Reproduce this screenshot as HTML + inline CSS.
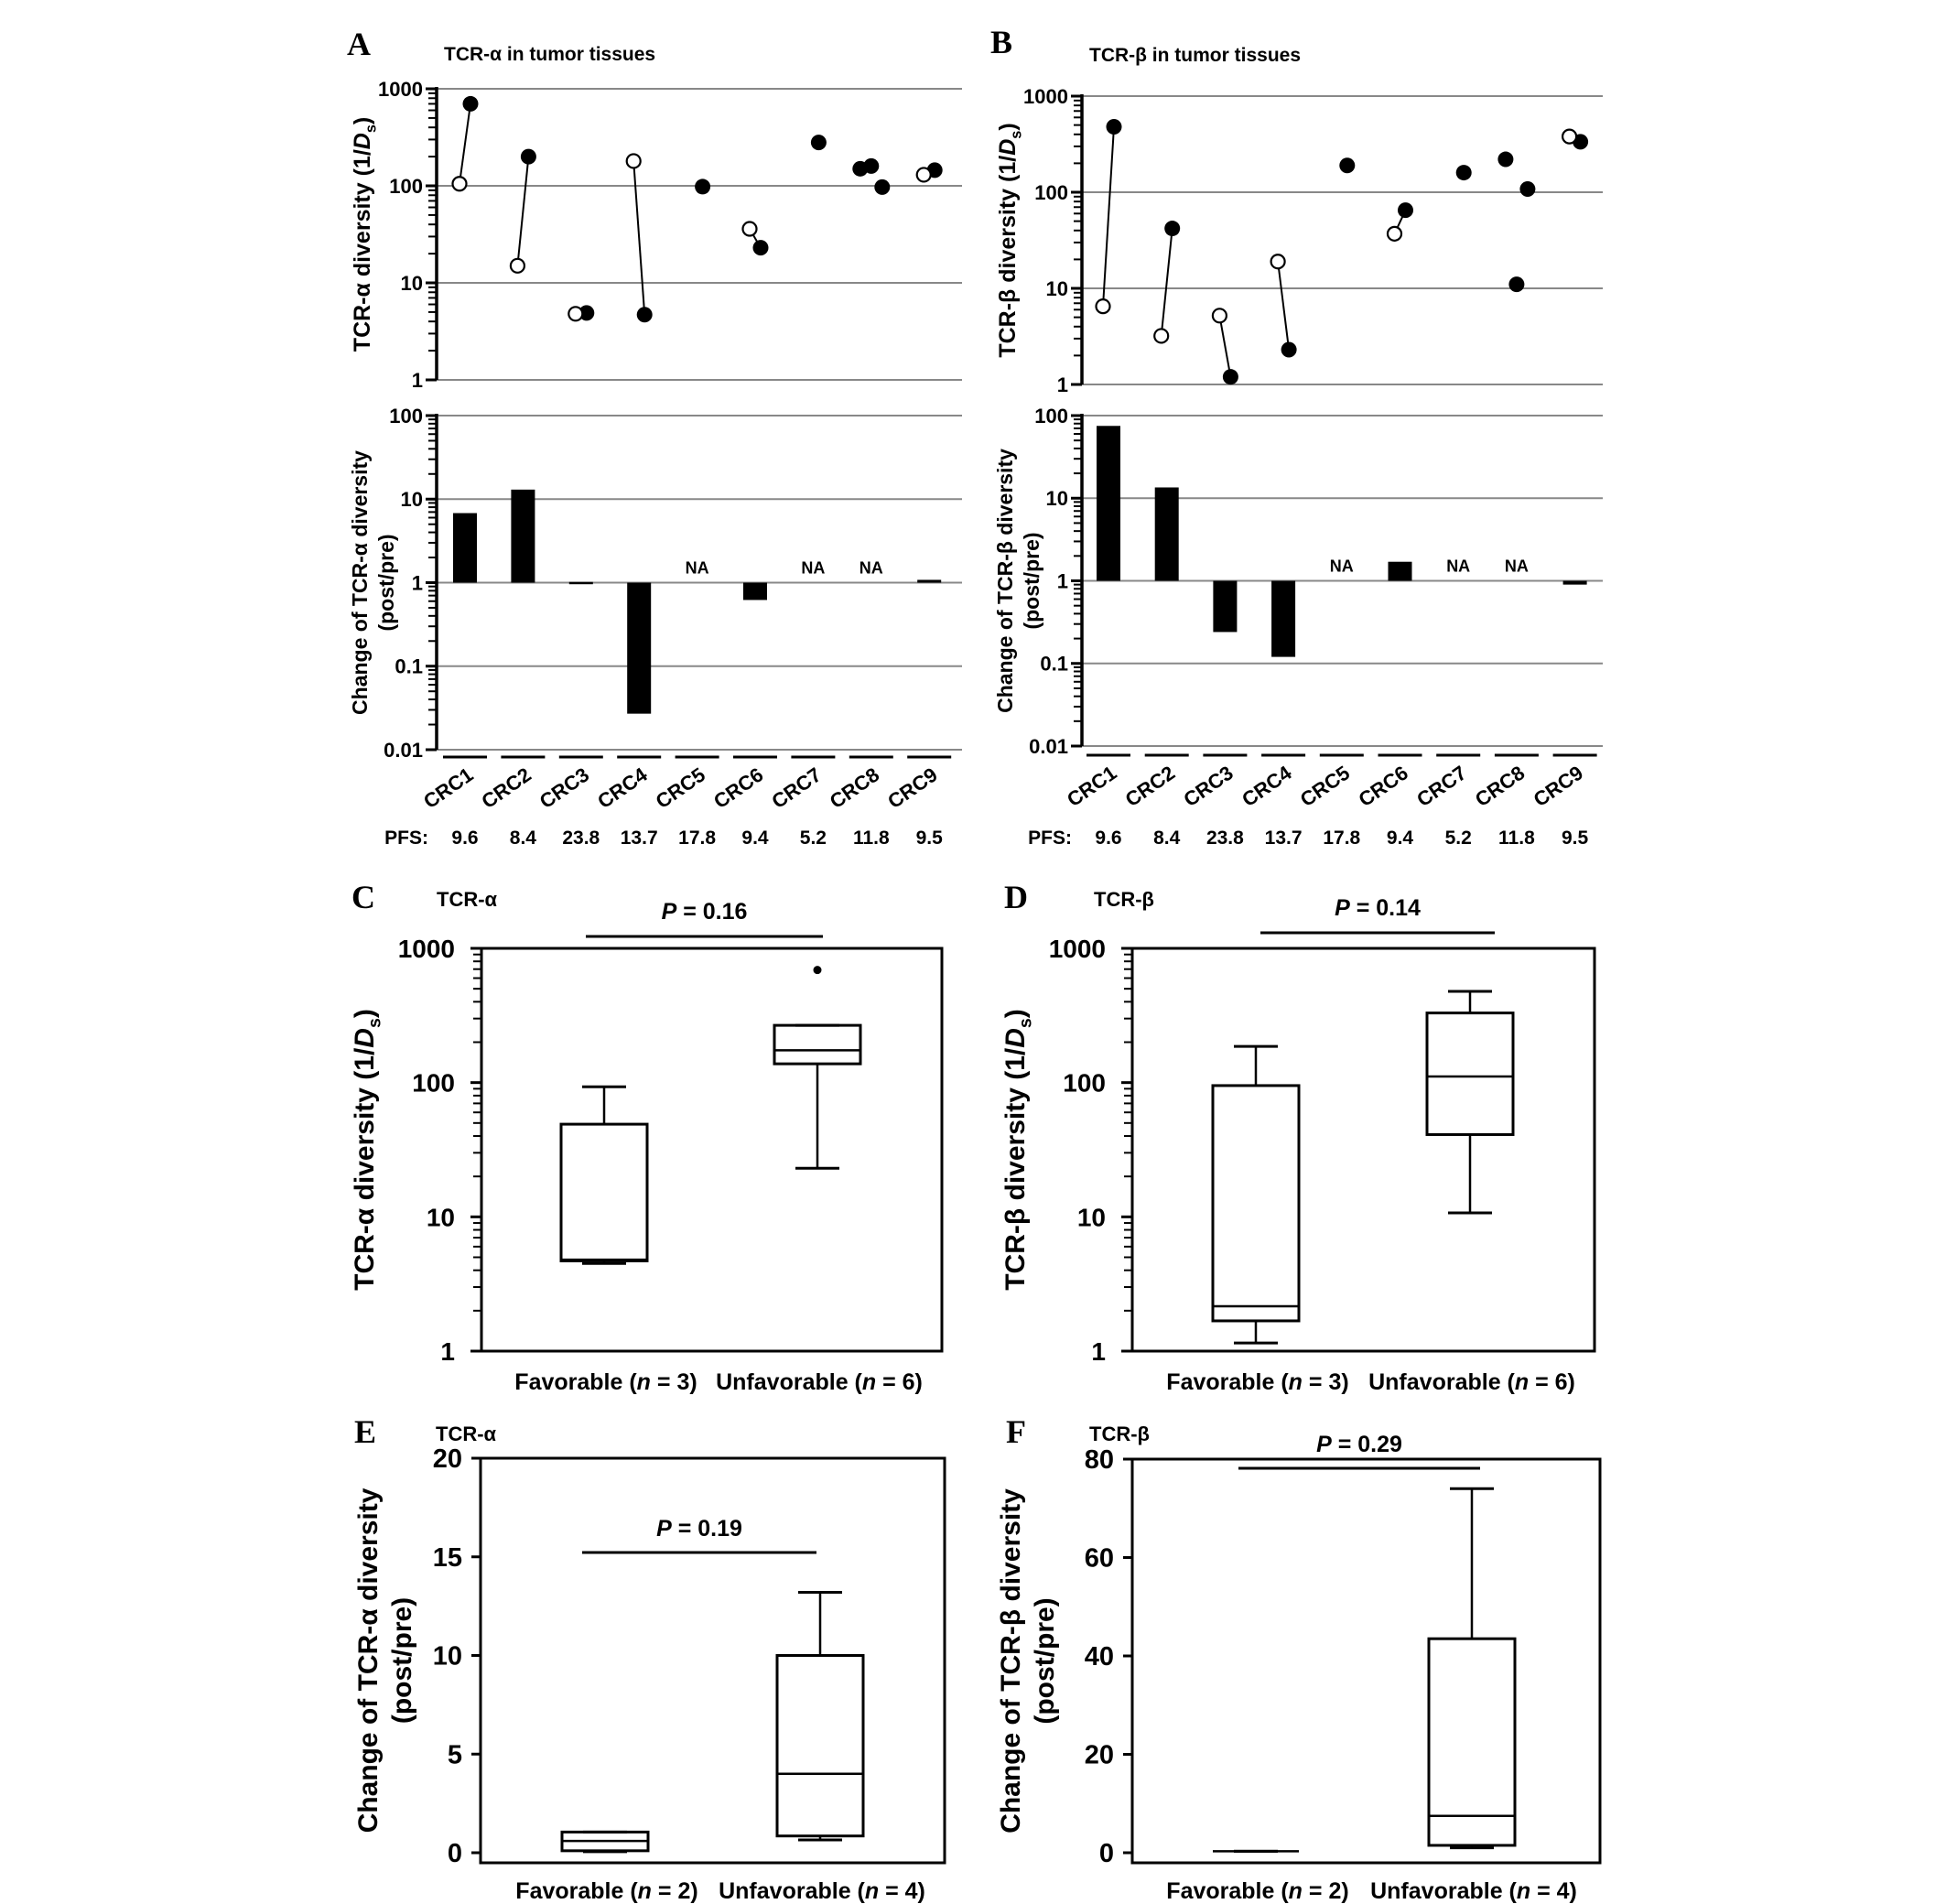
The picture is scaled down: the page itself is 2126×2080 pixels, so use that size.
<!DOCTYPE html>
<html><head><meta charset="utf-8"><style>
html,body{margin:0;padding:0;background:#fff}
svg{display:block;font-family:"Liberation Sans",Arial,sans-serif}
</style></head><body>
<svg id="fig" width="2126" height="2080" viewBox="0 0 2126 2080" xmlns="http://www.w3.org/2000/svg"></svg>
<script>
// ---- Data ----
const categories = ["CRC1","CRC2","CRC3","CRC4","CRC5","CRC6","CRC7","CRC8","CRC9"];
const pfsValues = ["9.6","8.4","23.8","13.7","17.8","9.4","5.2","11.8","9.5"];
const alphaPre = [105, 15, 4.8, 180, null, 36, null, null, 130];
const alphaPost = [[700],[200],[4.9],[4.7],[98],[23],[280],[150,160,97],[145]];
const alphaChange = [6.8, 13, 1.02, 0.027, null, 0.62, null, null, 1.08];
const betaPre = [6.5, 3.2, 5.2, 19, null, 37, null, null, 380];
const betaPost = [[480],[42],[1.2],[2.3],[190],[65],[160],[220,11,108],[335]];
const betaChange = [75, 13.5, 0.24, 0.12, null, 1.7, null, null, 0.9];
const groupLabels = ["Favorable","Unfavorable"];
// box stats: [low, q1, median, q3, high]
const boxC = [[4.5,4.7,4.8,49,93],[23,138,174,267,267]];
const outlierC = [null, 690];
const boxD = [[1.15,1.68,2.16,95,186],[10.7,41,111,330,478]];
const boxE = [[0.05,0.1,0.6,1.05,1.05],[0.65,0.85,4,10,13.2]];
const boxF = [[0.3,0.3,0.3,0.3,0.3],[1,1.5,7.5,43.5,74]];
const groupNC = [3,6], groupNE = [2,4];
const logTicksTop = [1,10,100,1000];
const logTicksBottom = [0.01,0.1,1,10,100];
const linTicksE = [0,5,10,15,20];
const linTicksF = [0,20,40,60,80];

const svg = document.getElementById('fig');
const NS = "http://www.w3.org/2000/svg";
function el(tag, attrs, parent){
  const e = document.createElementNS(NS, tag);
  for (const k in attrs) e.setAttribute(k, attrs[k]);
  (parent||svg).appendChild(e);
  return e;
}
function logScale(vmin,vmax,pBottom,pTop){
  const a=Math.log10(vmin), b=Math.log10(vmax);
  return v => pBottom - (Math.log10(v)-a)/(b-a)*(pBottom-pTop);
}
function linScale(vmin,vmax,pBottom,pTop){
  return v => pBottom - (v-vmin)/(vmax-vmin)*(pBottom-pTop);
}
function txt(x,y,s,size,opts,parent){
  opts=opts||{};
  const t = el('text',{x:x,y:y,'font-size':size,'font-weight':opts.weight||'bold','text-anchor':opts.anchor||'middle',fill:'#000'},parent);
  if(opts.transform) t.setAttribute('transform',opts.transform);
  if(opts.family) t.setAttribute('font-family',opts.family);
  t.textContent = s;
  return t;
}
function logAxis(g, ax, ticks, y, right, labelSize, gap){
  const lo = ticks[0], hi = ticks[ticks.length-1];
  for (let d=lo; d<hi*0.999; d*=10){
    for (let m=2;m<10;m++){
      const yy=y(d*m);
      const tk = el('line',{x1:ax-9,x2:ax,y1:yy,y2:yy,stroke:'#000','stroke-width':2},g);
      
      
    }
  }
  ticks.forEach(v=>{
    const yy=y(v);
    if(right){
      const gl = el('line',{x1:ax,x2:right,y1:yy,y2:yy,stroke:'#888','stroke-width':2},g);
      
      
    }
    el('line',{x1:ax-12,x2:ax,y1:yy,y2:yy,stroke:'#000','stroke-width':3},g);
    const t = txt(ax-gap,yy+labelSize*0.36,String(v),labelSize,{anchor:'end'},g);
    
    
  });
}
function ylabel(g,xs,y,lines,size,ds){
  lines.forEach((s,i)=>{
    const t = el('text',{x:0,y:0,'font-size':size,'font-weight':'bold','text-anchor':'middle',transform:`translate(${xs[i]},${y}) rotate(-90)`},g);
    
    
    if(ds && i===0){
      t.appendChild(document.createTextNode(s+" (1/"));
      const d=document.createElementNS(NS,'tspan'); d.setAttribute('font-style','italic'); d.textContent='D'; t.appendChild(d);
      const sb=document.createElementNS(NS,'tspan'); sb.setAttribute('font-size',size*0.65); sb.setAttribute('dy',size*0.25); sb.textContent='s'; t.appendChild(sb);
      const c=document.createElementNS(NS,'tspan'); c.setAttribute('dy',-size*0.25); c.textContent=')'; t.appendChild(c);
    } else t.textContent=s;
  });
}

// ---- Panels A & B ----
function panelAB(cfg){
  const g = el('g',{});
  
  
  const L = txt(cfg.letterX,cfg.letterY,cfg.letter,36,{family:'"Liberation Serif",serif'},g);
   
  const T = txt(cfg.ax+8,cfg.titleY,cfg.title,21,{anchor:'start'},g);
   
  const yT = logScale(1,1000,cfg.topB,cfg.topT);
  const yB = logScale(0.01,100,cfg.botB,cfg.botT);
  logAxis(g,cfg.ax,logTicksTop,yT,cfg.right,22,15);
  logAxis(g,cfg.ax,logTicksBottom,yB,cfg.right,22,15);
  el('line',{x1:cfg.ax,x2:cfg.ax,y1:cfg.topT-2,y2:cfg.topB,stroke:'#000','stroke-width':3.5},g);
  el('line',{x1:cfg.ax,x2:cfg.ax,y1:cfg.botT-2,y2:cfg.botB,stroke:'#000','stroke-width':3.5},g);
  ylabel(g,[cfg.ax-73],(cfg.topT+cfg.topB)/2,[cfg.ylab1],25,true);
  ylabel(g,[cfg.ax-76,cfg.ax-47],(cfg.botT+cfg.botB)/2,[cfg.ylab2,"(post/pre)"],23,false);
  const xc = i => cfg.c0 + i*cfg.step;
  categories.forEach((c,i)=>{
    const x=xc(i);
    const pre=cfg.pre[i], posts=cfg.post[i];
    const n=posts.length;
    const postX = posts.map((v,k)=> n===1 ? x+6 : x-12+k*12);
    if(pre!=null && n===1){
      el('line',{x1:x-6,y1:yT(pre),x2:postX[0],y2:yT(posts[0]),stroke:'#000','stroke-width':2},g);
    }
    posts.forEach((v,k)=>{
      const p = el('circle',{cx:postX[k],cy:yT(v),r:8.5,fill:'#000'},g);
      
      
    });
    if(pre!=null){
      const p = el('circle',{cx:x-6,cy:yT(pre),r:7.5,fill:'#fff',stroke:'#000','stroke-width':2.2},g);
      
      
    }
    const v=cfg.change[i];
    if(v==null){
      const na = txt(x,yB(1)-10,"NA",18,{},g);
       
    } else {
      const y1=yB(1), y2=yB(v);
      const b = el('rect',{x:x-13,y:Math.min(y1,y2),width:26,height:Math.max(2.5,Math.abs(y2-y1)),fill:'#000'},g);
      
      
    }
    const u = el('line',{x1:x-24,x2:x+24,y1:cfg.under,y2:cfg.under,stroke:'#000','stroke-width':3},g);
     
    const cl = txt(0,0,c,22,{anchor:'middle',transform:`translate(${x-14},${cfg.under+40}) rotate(-35)`},g);
     
    const pf = txt(x,cfg.pfsY,pfsValues[i],21,{},g);
     
  });
  const pl = txt(cfg.c0-40,cfg.pfsY,"PFS:",21,{anchor:'end'},g);
   
}
panelAB({name:'panel-a',letter:'A',letterX:392,letterY:60,title:'TCR-α in tumor tissues',titleY:66,
  ax:477,right:1051,topT:97,topB:415,botT:454,botB:819,under:827,pfsY:922,c0:508,step:63.4,
  ylab1:'TCR-α diversity',ylab2:'Change of TCR-α diversity',pre:alphaPre,post:alphaPost,change:alphaChange});
panelAB({name:'panel-b',letter:'B',letterX:1094,letterY:58,title:'TCR-β in tumor tissues',titleY:67,
  ax:1182,right:1751,topT:105,topB:420,botT:454,botB:815,under:825,pfsY:922,c0:1211,step:63.7,
  ylab1:'TCR-β diversity',ylab2:'Change of TCR-β diversity',pre:betaPre,post:betaPost,change:betaChange});

// ---- Box plots ----
function boxPanel(cfg){
  const g = el('g',{});
  
  
  const L = txt(cfg.letterX,cfg.letterY,cfg.letter,36,{family:'"Liberation Serif",serif'},g);
   
  const T = txt(cfg.subX,cfg.letterY-2,cfg.sub,22,{anchor:'start'},g);
   
  const fr = el('rect',{x:cfg.x0,y:cfg.yT,width:cfg.x1-cfg.x0,height:cfg.yB-cfg.yT,fill:'none',stroke:'#000','stroke-width':3},g);
   
  let y;
  if(cfg.log){
    y = logScale(1,1000,cfg.yB,cfg.yT);
    logAxis(g,cfg.x0,logTicksTop,y,null,28,29);
  } else {
    y = linScale(cfg.ticks[0],cfg.ticks[cfg.ticks.length-1],cfg.zeroY,cfg.yT);
    cfg.ticks.forEach(v=>{
      const yy=y(v);
      el('line',{x1:cfg.x0-10,x2:cfg.x0,y1:yy,y2:yy,stroke:'#000','stroke-width':3},g);
      const t=txt(cfg.x0-20,yy+10,String(v),29,{anchor:'end'},g);
       
    });
  }
  ylabel(g,cfg.ylx,(cfg.yT+cfg.yB)/2,cfg.ylab,30,cfg.ds);
  cfg.data.forEach((s,i)=>{
    const cx=cfg.cx[i], hw=47, cw=24;
    const bg = el('g',{},g);
    
    
    const [lo,q1,md,q3,hi]=s;
    el('line',{x1:cx,x2:cx,y1:y(hi),y2:y(q3),stroke:'#000','stroke-width':2.5},bg);
    el('line',{x1:cx,x2:cx,y1:y(q1),y2:y(lo),stroke:'#000','stroke-width':2.5},bg);
    el('line',{x1:cx-cw,x2:cx+cw,y1:y(hi),y2:y(hi),stroke:'#000','stroke-width':3},bg);
    el('line',{x1:cx-cw,x2:cx+cw,y1:y(lo),y2:y(lo),stroke:'#000','stroke-width':3},bg);
    el('rect',{x:cx-hw,y:y(q3),width:2*hw,height:Math.max(0,y(q1)-y(q3)),fill:'none',stroke:'#000','stroke-width':3},bg);
    el('line',{x1:cx-hw,x2:cx+hw,y1:y(md),y2:y(md),stroke:'#000','stroke-width':2.5},bg);
    if(cfg.outliers && cfg.outliers[i]!=null){
      const o=el('circle',{cx:cx,cy:y(cfg.outliers[i]),r:4.5,fill:'#000'},bg);
       
    }
    const xl = el('text',{x:cx+(i===0?2:2),y:cfg.xlY,'font-size':25,'font-weight':'bold','text-anchor':'middle'},g);
     
    xl.appendChild(document.createTextNode(groupLabels[i]+" ("));
    const it=document.createElementNS(NS,'tspan'); it.setAttribute('font-style','italic'); it.textContent='n'; xl.appendChild(it);
    xl.appendChild(document.createTextNode(" = "+cfg.n[i]+")"));
  });
  const pl = el('line',{x1:cfg.px0,x2:cfg.px1,y1:cfg.pLineY,y2:cfg.pLineY,stroke:'#000','stroke-width':3},g);
   
  const pt = el('text',{x:(cfg.px0+cfg.px1)/2,y:cfg.pTextY,'font-size':25,'font-weight':'bold','text-anchor':'middle'},g);
   
  const pi=document.createElementNS(NS,'tspan'); pi.setAttribute('font-style','italic'); pi.textContent='P'; pt.appendChild(pi);
  pt.appendChild(document.createTextNode(" = "+cfg.p));
}
boxPanel({name:'panel-c',letter:'C',letterX:397,letterY:992,sub:'TCR-α',subX:477,x0:526,x1:1029,yT:1036,yB:1476,log:true,
  ylx:[408],ylab:['TCR-α diversity'],ds:true,data:boxC,outliers:outlierC,cx:[660,893],n:groupNC,xlY:1518,
  px0:640,px1:899,pLineY:1023,pTextY:1004,p:'0.16'});
boxPanel({name:'panel-d',letter:'D',letterX:1110,letterY:992,sub:'TCR-β',subX:1195,x0:1237,x1:1742,yT:1036,yB:1476,log:true,
  ylx:[1119],ylab:['TCR-β diversity'],ds:true,data:boxD,cx:[1372,1606],n:groupNC,xlY:1518,
  px0:1377,px1:1633,pLineY:1019,pTextY:1000,p:'0.14'});
boxPanel({name:'panel-e',letter:'E',letterX:399,letterY:1576,sub:'TCR-α',subX:476,x0:525,x1:1032,yT:1593,yB:2035,log:false,zeroY:2024,ticks:linTicksE,
  ylx:[412,449],ylab:['Change of  TCR-α diversity','(post/pre)'],ds:false,data:boxE,cx:[661,896],n:groupNE,xlY:2074,
  px0:636,px1:892,pLineY:1696,pTextY:1678,p:'0.19'});
boxPanel({name:'panel-f',letter:'F',letterX:1110,letterY:1576,sub:'TCR-β',subX:1190,x0:1237,x1:1748,yT:1594,yB:2035,log:false,zeroY:2024,ticks:linTicksF,
  ylx:[1114,1151],ylab:['Change of TCR-β diversity','(post/pre)'],ds:false,data:boxF,cx:[1372,1608],n:groupNE,xlY:2074,
  px0:1353,px1:1617,pLineY:1604,pTextY:1586,p:'0.29'});
</script>
</body></html>
